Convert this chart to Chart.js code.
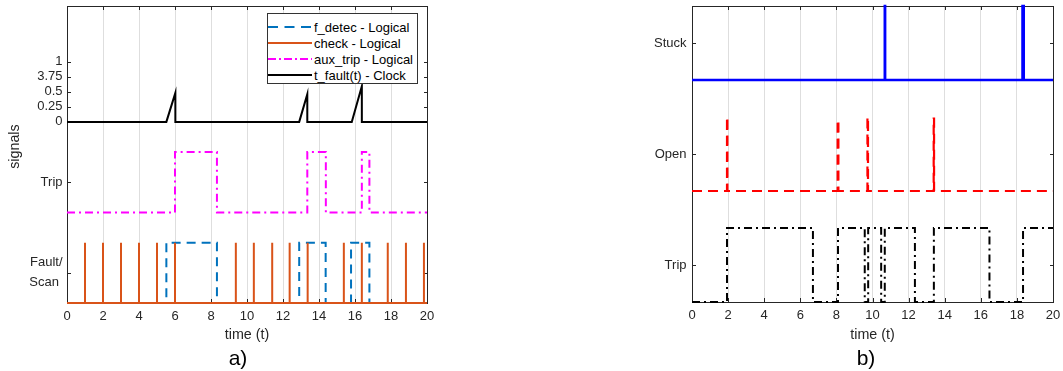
<!DOCTYPE html>
<html>
<head>
<meta charset="utf-8">
<script src="https://cdn.jsdelivr.net/npm/chart.js@4.4.1/dist/chart.umd.min.js"></script>
<style>
  html, body { margin:0; padding:0; background:#fff; width:1063px; height:371px; overflow:hidden;
    font-family:"Liberation Sans", Arial, sans-serif; }
  #wrapA { position:absolute; left:0; top:0; width:440px; height:371px; }
  #wrapB { position:absolute; left:620px; top:0; width:443px; height:371px; }
  canvas { display:block; }
  .panel-label { position:absolute; top:347px; font-size:21px; line-height:21px; color:#000;
    transform:translateX(-50%); white-space:nowrap; }
  #legend { position:absolute; left:267px; top:13px; width:149px; height:64px; padding-top:5px;
    border:1px solid #333; background:#fff; }
  #legend .row { height:16px; display:flex; align-items:center; font-size:13px; color:#000; white-space:nowrap; }
  #legend svg { width:45px; height:16px; flex:none; margin-right:1px; }
</style>
</head>
<body>
<div id="wrapA"><canvas id="chartA" width="440" height="371"></canvas></div>
<div id="wrapB"><canvas id="chartB" width="443" height="371"></canvas></div>
<div id="legend"></div>
<div class="panel-label" style="left:238px">a)</div>
<div class="panel-label" style="left:866px">b)</div>
<script>
// ---------------- DATA ----------------
const timeTicks = [0, 2, 4, 6, 8, 10, 12, 14, 16, 18, 20];

// Panel a) — tick labels on the signal axis
const aTickValues = [0.5, 2, 3, 3.25, 3.5, 3.75, 4];
const aTickLabels = [['Fault/', 'Scan '], 'Trip', '0', '0.25', '0.5', '3.75', '1'];

// f_detec (logical): change times and new levels
const fDetecT = [0, 5.52, 8.33, 12.9, 14.37, 15.78, 16.8, 20];
const fDetecV = [0, 1, 0, 1, 0, 1, 0, 0];

// check (logical): instants of the scan pulses
const checkT = [1, 2, 3, 4, 5, 6, 9.38, 10.38, 11.4, 12.37, 13.37, 15.38, 16.38, 17.82, 18.83, 19.83];
const checkV = [1, 1, 1, 1, 1, 1, 1, 1, 1, 1, 1, 1, 1, 1, 1, 1];

// aux_trip (logical): change times and new levels
const auxTripT = [0, 6.0, 8.33, 13.35, 14.38, 16.38, 16.8, 20];
const auxTripV = [0, 1, 0, 1, 0, 1, 0, 0];

// t_fault(t) (clock ramp)
const tFaultT = [0, 5.52, 6.02, 6.02, 12.9, 13.35, 13.35, 15.82, 16.38, 16.38, 20];
const tFaultV = [0, 0, 0.48, 0, 0, 0.46, 0, 0, 0.59, 0, 0];

// Panel b) — tick labels
const bTickValues = [1, 4, 7];
const bTickLabels = ['Trip', 'Open', 'Stuck'];

// Trip (logical): change times and new levels
const tripT = [0, 1.94, 6.7, 8.09, 9.57, 9.76, 10.48, 10.68, 12.35, 13.4, 16.48, 18.34, 20];
const tripV = [0, 1, 0, 1, 0, 1, 0, 1, 0, 1, 0, 1, 1];

// Open: pulse start, end and height
const openStart = [1.94, 8.07, 9.72, 13.39];
const openEnd   = [1.96, 8.11, 9.75, 13.41];
const openH     = [1.0, 0.96, 1.0, 0.98];

// Stuck: pulse start, end and height
const stuckStart = [10.68, 18.31];
const stuckEnd   = [10.70, 18.38];
const stuckH     = [1, 1];

// ---------------- LAYOUT / STYLE ----------------
const FONT = "'Liberation Sans', Arial, sans-serif";
Chart.defaults.font.family = FONT;
const TXT = '#262626';

// lane offsets (where each signal sits on the y axis) and gains
const laneA = { fdetec: [0, 1], check: [0, 1], aux: [1.5, 1], tfault: [3, 1] };
const laneB = { trip: [0, 2], open: [3, 2], stuck: [6, 2] };

function series(t, v, lane) {
  return t.map((x, i) => ({ x: x, y: lane[0] + lane[1] * v[i] }));
}
function spikes(t, v, lane, t0, t1) {
  const pts = [{ x: t0, y: lane[0] }];
  t.forEach((x, i) => {
    pts.push({ x: x, y: lane[0] }, { x: x, y: lane[0] + lane[1] * v[i] }, { x: x, y: lane[0] });
  });
  pts.push({ x: t1, y: lane[0] });
  return pts;
}
function pulses(s, e, h, lane, t0, t1) {
  const pts = [{ x: t0, y: lane[0] }];
  s.forEach((x, i) => {
    pts.push({ x: x, y: lane[0] + lane[1] * h[i] }, { x: e[i], y: lane[0] });
  });
  pts.push({ x: t1, y: lane[0] });
  return pts;
}

const framePlugin = {
  id: 'frame',
  beforeDatasetsDraw(chart) {
    const { ctx, chartArea: { left, top, right, bottom }, scales: { x, y } } = chart;
    ctx.save();
    ctx.strokeStyle = TXT;
    ctx.lineWidth = 1;
    ctx.strokeRect(left + 0.5, top + 0.5, right - left, bottom - top);
    ctx.beginPath();
    const L = 4;
    x.ticks.forEach(tk => {
      const px = Math.round(x.getPixelForValue(tk.value)) + 0.5;
      ctx.moveTo(px, bottom); ctx.lineTo(px, bottom - L);
      ctx.moveTo(px, top); ctx.lineTo(px, top + L);
    });
    y.ticks.forEach(tk => {
      const py = Math.round(y.getPixelForValue(tk.value)) + 0.5;
      ctx.moveTo(left, py); ctx.lineTo(left + L, py);
      ctx.moveTo(right + 1, py); ctx.lineTo(right + 1 - L, py);
    });
    ctx.stroke();
    ctx.restore();
  }
};

function xScale(h) {
  return {
    type: 'linear', min: 0, max: 20,
    afterBuildTicks: s => { s.ticks = timeTicks.map(v => ({ value: v })); },
    afterFit: s => { s.height = h; s.paddingLeft = 0; s.paddingRight = 0; },
    ticks: { color: TXT, font: { size: 13 }, padding: 6, maxRotation: 0, autoSkip: false,
             callback: v => String(v) },
    grid: { color: '#dedede', lineWidth: 1, drawTicks: false },
    border: { display: false },
    title: { display: true, text: 'time (t)', color: TXT, font: { size: 14.3 },
             padding: { top: 0, bottom: 27 } }
  };
}

function yScale(min, max, vals, labels, w, pad, titleText) {
  return {
    type: 'linear', min: min, max: max,
    afterBuildTicks: s => { s.ticks = vals.map(v => ({ value: v })); },
    afterFit: s => { s.width = w; s.paddingTop = 0; s.paddingBottom = 0; },
    ticks: { color: TXT, font: { size: 13, lineHeight: 20 / 13 }, padding: pad, autoSkip: false,
             callback: (v, i) => labels[i] },
    grid: { display: false, drawTicks: false },
    border: { display: false },
    title: titleText ? { display: true, text: titleText, color: TXT, font: { size: 14.3 },
             padding: { top: 6.5, bottom: 0 } } : { display: false }
  };
}

const common = {
  responsive: false, animation: false, devicePixelRatio: 1,
  plugins: { legend: { display: false }, tooltip: { enabled: false } },
  elements: { point: { radius: 0 }, line: { tension: 0 } }
};

// ---------------- PANEL A ----------------
new Chart(document.getElementById('chartA'), {
  type: 'line',
  data: {
    datasets: [
      { label: 'f_detec - Logical', data: series(fDetecT, fDetecV, laneA.fdetec), stepped: true,
        borderColor: '#0072BD', borderWidth: 2, borderDash: [9, 6], order: 4, clip: 4 },
      { label: 'check - Logical', data: spikes(checkT, checkV, laneA.check, 0, 20),
        borderColor: '#D95319', borderWidth: 2, order: 3, clip: 4 },
      { label: 'aux_trip - Logical', data: series(auxTripT, auxTripV, laneA.aux), stepped: true,
        borderColor: '#FF00FF', borderWidth: 2, borderDash: [8, 4, 2, 4], order: 2, clip: 4 },
      { label: 't_fault(t) - Clock', data: series(tFaultT, tFaultV, laneA.tfault),
        borderColor: '#000000', borderWidth: 2, order: 1, clip: 4 }
    ]
  },
  options: Object.assign({}, common, {
    layout: { padding: { top: 6, right: 13, left: 0, bottom: 0 } },
    scales: {
      x: xScale(68),
      y: yScale(0, 4.92, aTickValues, aTickLabels, 67, 4.5, '    signals')
    }
  }),
  plugins: [framePlugin]
});

// ---------------- PANEL B ----------------
new Chart(document.getElementById('chartB'), {
  type: 'line',
  data: {
    datasets: [
      { label: 'Stuck', data: pulses(stuckStart, stuckEnd, stuckH, laneB.stuck, 0, 20), stepped: true,
        borderColor: '#0000FF', borderWidth: 2.5, order: 3, clip: 4 },
      { label: 'Open', data: pulses(openStart, openEnd, openH, laneB.open, 0, 20), stepped: true,
        borderColor: '#FF0000', borderWidth: 2.2, borderDash: [10, 6], order: 2, clip: 4 },
      { label: 'Trip', data: series(tripT, tripV, laneB.trip), stepped: true,
        borderColor: '#000000', borderWidth: 2, borderDash: [8, 4, 2, 4], order: 1, clip: 4 }
    ]
  },
  options: Object.assign({}, common, {
    layout: { padding: { top: 6, right: 10, left: 0, bottom: 0 } },
    scales: {
      x: xScale(69),
      y: yScale(0, 8, bTickValues, bTickLabels, 72, 5.5, null)
    }
  }),
  plugins: [framePlugin]
});

// ---------------- LEGEND (panel a) ----------------
const legendItems = [
  { text: 'f_detec - Logical', color: '#0072BD', dash: '10 6.5' },
  { text: 'check - Logical', color: '#D95319', dash: '' },
  { text: 'aux_trip - Logical', color: '#FF00FF', dash: '8 3 2 3' },
  { text: 't_fault(t) - Clock', color: '#000000', dash: '' }
];
const lg = document.getElementById('legend');
legendItems.forEach(it => {
  const row = document.createElement('div');
  row.className = 'row';
  row.innerHTML = '<svg viewBox="0 0 45 16"><line x1="0" y1="8" x2="44" y2="8" stroke="' + it.color +
    '" stroke-width="2"' + (it.dash ? ' stroke-dasharray="' + it.dash + '"' : '') + '/></svg><span>' +
    it.text + '</span>';
  lg.appendChild(row);
});
</script>
</body>
</html>
